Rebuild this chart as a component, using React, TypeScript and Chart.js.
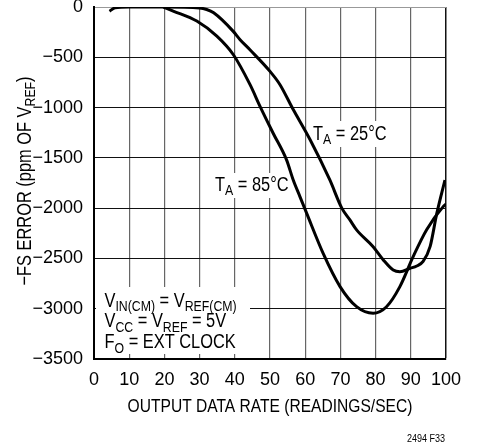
import React, { useEffect, useRef } from "react";
import { Chart, registerables } from "chart.js";

Chart.register(...registerables);

// T_A = 25°C curve
const rate25 = [4.4, 6, 10, 20, 30, 32, 34, 39.5, 41.5, 44.3, 50, 52.8, 56.6, 61.4, 67, 70.4, 72.7, 74.6, 79.3, 82.2, 85, 86.9, 89.8, 91.7, 93.5, 95.5, 97.4, 99.7];
const err25 = [-42, -8, 0, 0, -10, -25, -58, -240, -325, -425, -640, -770, -1020, -1320, -1720, -2000, -2117, -2216, -2383, -2515, -2615, -2632, -2598, -2575, -2530, -2380, -2050, -1720];

// T_A = 85°C curve
const rate85 = [19.7, 22.5, 29.2, 34.9, 39.6, 44.3, 47.2, 50.9, 54.7, 56.6, 58.5, 60.4, 65.1, 69.9, 74.6, 79.3, 83.1, 86.9, 90.7, 94.5, 99.2, 100];
const err85 = [0, -40, -140, -290, -475, -770, -990, -1255, -1520, -1720, -1885, -2050, -2450, -2780, -2980, -3045, -2980, -2780, -2480, -2215, -1985, -1960];

const xTicks = [0, 10, 20, 30, 40, 50, 60, 70, 80, 90, 100];
const yTicks = [0, -500, -1000, -1500, -2000, -2500, -3000, -3500];

const FONT = "'Liberation Sans', Arial, sans-serif";
const NARROW = 0.82;

type Part = [string, boolean];

function richWidth(ctx: CanvasRenderingContext2D, parts: Part[], big: number, small: number) {
  let w = 0;
  for (const [t, sub] of parts) {
    ctx.font = `${sub ? small : big}px ${FONT}`;
    w += ctx.measureText(t).width;
  }
  return w * NARROW;
}

function drawRich(ctx: CanvasRenderingContext2D, x: number, y: number, parts: Part[], big: number, small: number, subShift: number) {
  ctx.save();
  ctx.translate(x, y);
  ctx.scale(NARROW, 1);
  ctx.textAlign = "left";
  ctx.textBaseline = "alphabetic";
  let cx = 0;
  for (const [t, sub] of parts) {
    ctx.font = `${sub ? small : big}px ${FONT}`;
    ctx.fillText(t, cx, sub ? subShift : 0);
    cx += ctx.measureText(t).width;
  }
  ctx.restore();
}

const decorPlugin = {
  id: "decor",
  beforeDatasetsDraw(chart: any) {
    const ctx: CanvasRenderingContext2D = chart.ctx;
    const xs = chart.scales.x;
    ctx.save();
    ctx.fillStyle = "#ffffff";
    // annotation box (bottom-left)
    ctx.fillRect(xs.left + 2, 287, 250 - xs.left - 2, 354 - 287);
    // label boxes
    ctx.fillRect(310, 121, 80, 26);
    ctx.fillRect(212, 173, 78, 25);
    ctx.fillStyle = "#000";
    const L1: Part[] = [["V", false], ["IN(CM)", true], [" = V", false], ["REF(CM)", true]];
    const L2: Part[] = [["V", false], ["CC", true], [" = V", false], ["REF", true], [" = 5V", false]];
    const L3: Part[] = [["F", false], ["O", true], [" = EXT CLOCK", false]];
    drawRich(ctx, 104.5, 306.5, L1, 20, 15, 4.5);
    drawRich(ctx, 104.5, 327, L2, 20, 15, 4.5);
    drawRich(ctx, 104.5, 348, L3, 20, 15, 4.5);
    drawRich(ctx, 313, 139.5, [["T", false], ["A", true], [" = 25°C", false]], 20, 15, 4);
    drawRich(ctx, 215, 191, [["T", false], ["A", true], [" = 85°C", false]], 20, 15, 4);
    ctx.restore();
  },
  afterDraw(chart: any) {
    const ctx: CanvasRenderingContext2D = chart.ctx;
    const xs = chart.scales.x;
    ctx.save();
    ctx.fillStyle = "#000";
    // x title
    const xt: Part[] = [["OUTPUT DATA RATE (READINGS/SEC)", false]];
    const xw = richWidth(ctx, xt, 19, 15);
    drawRich(ctx, (xs.left + xs.right) / 2 - xw / 2, 412, xt, 19, 15, 0);
    // y title (rotated)
    const parts: Part[] = [["\u2212FS ERROR (ppm OF V", false], ["REF", true], [")", false]];
    const w = richWidth(ctx, parts, 20, 15);
    ctx.translate(30.5, 181);
    ctx.rotate(-Math.PI / 2);
    drawRich(ctx, -w / 2, 0, parts, 20, 15, 4.5);
    ctx.restore();
    ctx.save();
    ctx.fillStyle = "#000";
    const ft: Part[] = [["2494 F33", false]];
    const fw = richWidth(ctx, ft, 11, 11);
    drawRich(ctx, 445 - fw, 441.5, ft, 11, 11, 0);
    ctx.restore();
  },
};

export default function App() {
  const ref = useRef<HTMLCanvasElement | null>(null);
  useEffect(() => {
    if (!ref.current) return;
    const chart = new Chart(ref.current, {
      type: "line",
      data: {
        datasets: [
          {
            label: "TA = 25°C",
            data: rate25.map((x, i) => ({ x, y: err25[i] })),
            borderColor: "#000",
            borderWidth: 3,
            pointRadius: 0,
            cubicInterpolationMode: "monotone",
            fill: false,
          },
          {
            label: "TA = 85°C",
            data: rate85.map((x, i) => ({ x, y: err85[i] })),
            borderColor: "#000",
            borderWidth: 3,
            pointRadius: 0,
            cubicInterpolationMode: "monotone",
            fill: false,
          },
        ],
      },
      options: {
        animation: false,
        responsive: false,
        devicePixelRatio: 1,
        layout: { padding: { top: 7, right: 31, left: 0, bottom: 0 } },
        plugins: { legend: { display: false }, tooltip: { enabled: false } },
        scales: {
          x: {
            type: "linear",
            min: 0,
            max: 100,
            afterBuildTicks: (s: any) => {
              s.ticks = xTicks.map((v) => ({ value: v }));
            },
            afterFit: (s: any) => {
              s.height = 86;
              s.paddingLeft = 0;
              s.paddingRight = 0;
            },
            ticks: {
              color: "#000",
              padding: 10,
              maxRotation: 0,
              autoSkip: false,
              font: { family: FONT, size: 18 },
            },
            grid: {
              drawTicks: false,
              color: (c: any) => (c.tick && c.tick.value === 100 ? "#111" : "#666"),
              lineWidth: (c: any) => (c.tick && c.tick.value === 100 ? 1.5 : 1.2),
            },
            border: { display: true, color: "#000", width: 2 },
          },
          y: {
            type: "linear",
            min: -3500,
            max: 0,
            afterBuildTicks: (s: any) => {
              s.ticks = yTicks.map((v) => ({ value: v }));
            },
            afterFit: (s: any) => {
              s.width = 94;
              s.paddingTop = 0;
              s.paddingBottom = 0;
            },
            ticks: {
              color: "#000",
              padding: 11,
              autoSkip: false,
              font: { family: FONT, size: 18 },
              callback: (v: any) => (Number(v) < 0 ? "\u2212" + Math.abs(Number(v)) : String(v)),
            },
            grid: {
              drawTicks: false,
              color: (c: any) => (c.tick && c.tick.value === 0 ? "#999" : "#111"),
              lineWidth: 1,
            },
            border: { display: true, color: "#000", width: 2 },
          },
        },
      },
      plugins: [decorPlugin],
    } as any);
    return () => chart.destroy();
  }, []);
  return (
    <div style={{ position: "absolute", left: 0, top: 0, width: 477, height: 445, background: "#fff" }}>
      <canvas ref={ref} width={477} height={445} />
    </div>
  );
}
